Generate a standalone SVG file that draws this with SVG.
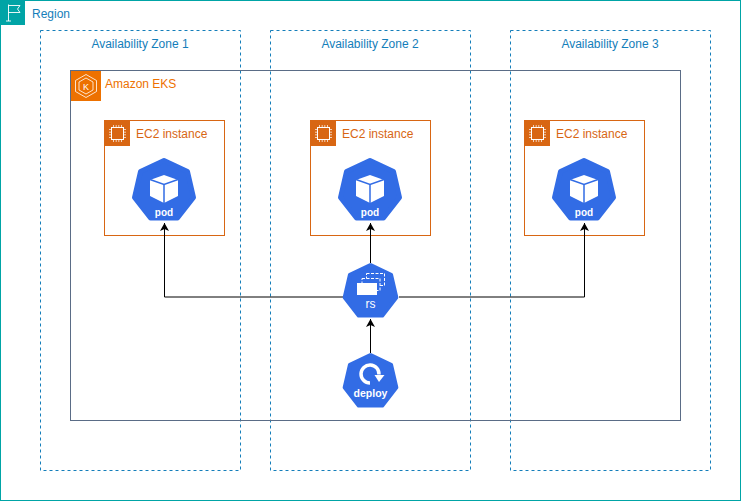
<svg xmlns="http://www.w3.org/2000/svg" width="741" height="501" viewBox="0 0 741 501">
<style>
text{font-family:"Liberation Sans",Arial,Helvetica,sans-serif;font-size:12px}
.az{fill:none;stroke:#147EBA;stroke-dasharray:3 3}
.azt{fill:#147EBA;text-anchor:middle}
.ec2{fill:#fff;stroke:#D86613}
.ec2t{fill:#D86613}
.k{fill:#fff;font-weight:700;text-anchor:middle}
.c{fill:none;stroke:#000;stroke-width:1;marker-end:url(#a)}
</style>
<defs>
<marker id="a" markerUnits="userSpaceOnUse" markerWidth="10" markerHeight="10" refX="8" refY="5" orient="auto"><path d="M0 0.500 L8 5 L0 9.500 L2 5 Z" fill="#000"/></marker>
<polygon id="hep" points="0,-29.500 23.500,-18.500 29.500,7.500 13.500,28 -13.500,28 -29.500,7.500 -23.500,-18.500" fill="#326CE5" stroke="#326CE5" stroke-width="5" stroke-linejoin="round"/>
<g id="chip"><rect width="25" height="25" fill="#D86613"/><rect x="6.500" y="6.500" width="12" height="12" fill="#D86613" stroke="#fff" stroke-width="1"/><path d="M8.500 4V6.500M11.200 4V6.500M13.800 4V6.500M16.500 4V6.500M8.500 18.500V21M11.200 18.500V21M13.800 18.500V21M16.500 18.500V21M4 8.500H6.500M4 11.200H6.500M4 13.800H6.500M4 16.500H6.500M18.500 8.500H21M18.500 11.200H21M18.500 13.800H21M18.500 16.500H21" stroke="#fff" stroke-width=".7" fill="none"/></g>
<g id="pod"><use href="#hep"/><path d="M0 -15 L14 -10 V6 L0 13 L-14 6 V-10 Z" fill="#fff"/><path d="M-14 -10.500 L0 -5.500 L14 -10.500 M0 -5.500 V13" fill="none" stroke="#326CE5" stroke-width="1.500"/><text y="26" class="k" style="font-size:10px">pod</text></g>
</defs>

<g id="region"><rect x=".5" y=".5" width="740" height="500" fill="#fff" stroke="#00A4A6"/><rect width="25" height="25" fill="#00A4A6"/><path d="M8.500 21V4.500M6 21H11M8.500 5.500H20L17.500 9L20 12.500H8.500" fill="none" stroke="#fff" stroke-width=".9"/><text x="32" y="18" fill="#147EBA">Region</text></g>
<g id="az1"><rect class="az" x="40.500" y="30.500" width="200" height="440"/><text class="azt" x="140" y="48">Availability Zone 1</text></g>
<g id="az2"><rect class="az" x="270.500" y="30.500" width="200" height="440"/><text class="azt" x="370" y="48">Availability Zone 2</text></g>
<g id="az3"><rect class="az" x="510.500" y="30.500" width="200" height="440"/><text class="azt" x="610" y="48">Availability Zone 3</text></g>

<g id="eks"><rect x="70.500" y="70.500" width="610" height="350" fill="none" stroke="#5A6C86"/><rect x="71" y="71" width="30" height="30" fill="#ED7100"/><path d="M86 74.500L96.500 80.500V91.500L86 97.500L75.500 91.500V80.500Z" fill="none" stroke="#fff" stroke-width=".8"/><path d="M86 78L93 82V90L86 94L79 90V82Z" fill="none" stroke="#fff" stroke-width=".8"/><text x="86" y="90" text-anchor="middle" fill="#fff" style="font-size:9px">K</text><text x="105" y="88" fill="#ED7100">Amazon EKS</text></g>

<g id="ec2-1"><rect class="ec2" x="104.500" y="120.500" width="120" height="115"/><use href="#chip" x="105" y="121"/><text class="ec2t" x="136" y="138">EC2 instance</text></g>
<g id="ec2-2"><rect class="ec2" x="310.500" y="120.500" width="120" height="115"/><use href="#chip" x="311" y="121"/><text class="ec2t" x="342" y="138">EC2 instance</text></g>
<g id="ec2-3"><rect class="ec2" x="524.500" y="120.500" width="120" height="115"/><use href="#chip" x="525" y="121"/><text class="ec2t" x="556" y="138">EC2 instance</text></g>

<g id="connectors">
<path class="c" d="M343 297H164.500V223"/>
<path class="c" d="M399 297H584.500V223"/>
<path class="c" d="M370.500 263V223"/>
<path class="c" d="M370.500 353V319"/>
</g>

<g id="pod-1"><use href="#pod" x="164" y="190"/></g>
<g id="pod-2"><use href="#pod" x="370" y="190"/></g>
<g id="pod-3"><use href="#pod" x="584" y="190"/></g>

<g id="rs"><use href="#hep" transform="translate(370.500,291) scale(.87)"/><rect x="366.500" y="273.500" width="18" height="12" fill="none" stroke="#fff" stroke-dasharray="3 1.500"/><rect x="362" y="278.500" width="18" height="12" fill="#326CE5" stroke="#fff" stroke-dasharray="3 1.500"/><rect x="357" y="283" width="20" height="12" fill="#fff"/><text x="370.500" y="308" class="k" style="font-weight:400">rs</text></g>
<g id="deploy"><use href="#hep" transform="translate(370.500,381) scale(.87)"/><path d="M379 374.500A9 9 0 1 0 370 383" fill="none" stroke="#fff" stroke-width="3.500"/><path d="M374.500 375L384.500 375L379 382Z" fill="#fff"/><text x="370.500" y="397" class="k" style="font-size:10.500px">deploy</text></g>
</svg>
